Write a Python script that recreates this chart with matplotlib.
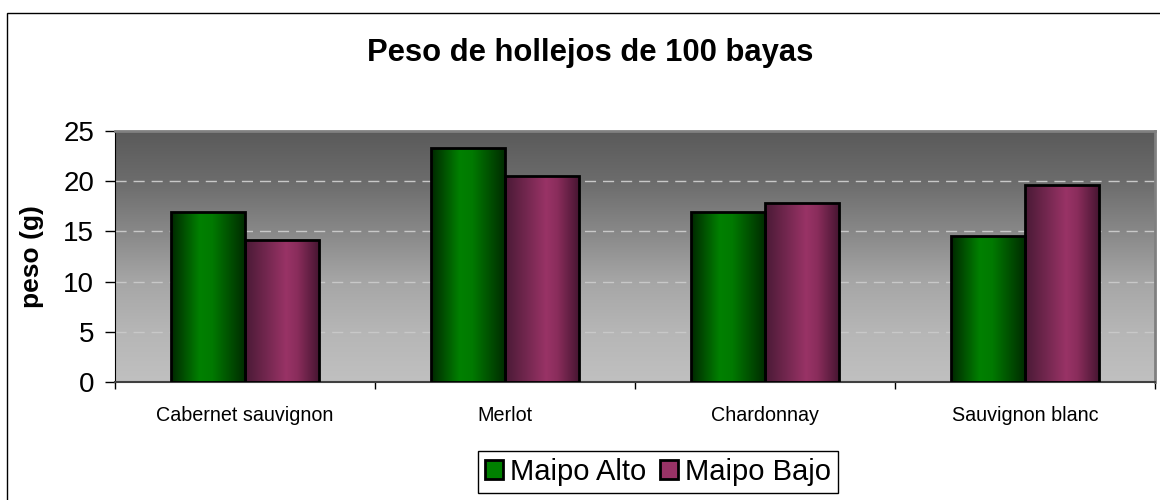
import numpy as np
import matplotlib
matplotlib.use('Agg')
import matplotlib.pyplot as plt
from matplotlib.colors import LinearSegmentedColormap
from matplotlib.patches import Patch, Rectangle

plt.rcParams['font.family'] = ['Liberation Sans', 'DejaVu Sans']

# data
variedades = ["Cabernet sauvignon", "Merlot", "Chardonnay", "Sauvignon blanc"]
maipo_alto = [16.9, 23.3, 16.9, 14.5]
maipo_bajo = [14.1, 20.5, 17.8, 19.6]
series_names = ["Maipo Alto", "Maipo Bajo"]
y_ticks = [0, 5, 10, 15, 20, 25]

# excel-like horizontal gradients for the bars
green_cmap = LinearSegmentedColormap.from_list('g', [(0, '#002800'), (0.38, '#008000'), (0.55, '#007a00'), (1, '#002a00')])
purple_cmap = LinearSegmentedColormap.from_list('p', [(0, '#4a1a36'), (0.55, '#993366'), (0.7, '#8a2d5c'), (1, '#451530')])
colors = {'Maipo Alto': '#008000', 'Maipo Bajo': '#993366'}

fig = plt.figure(figsize=(11.6, 5), dpi=100)
ax = fig.add_axes([115/1160, 1 - 382/500, 1040/1160, 251/500])

x = np.arange(len(variedades))
bar_width = 0.285

# plot area background gradient, dark at top
stops = [0, 0.2, 0.4, 0.6, 0.8, 1.0]
greys = [0xc0, 0xb6, 0xa6, 0x88, 0x6c, 0x5a]
t = np.linspace(0, 1, 256)
bg = np.interp(t, stops, greys) / 255.0
bg_img = np.dstack([bg, bg, bg]).reshape(256, 1, 3)
ax.imshow(bg_img, extent=[-0.5, 3.5, 0, 25], origin='lower', aspect='auto', zorder=0)

# dashed grid
for yv in y_ticks[1:-1]:
	ax.axhline(yv, color='#c8c8c8', lw=1, ls=(0, (8, 5)), zorder=1)

grad = np.linspace(0, 1, 200)[None, :]
for vals, offset, cmap, name in [(maipo_alto, -bar_width / 2, green_cmap, series_names[0]),
								 (maipo_bajo, bar_width / 2, purple_cmap, series_names[1])]:
	bars = ax.bar(x + offset, vals, bar_width, facecolor='none', edgecolor='black', lw=2, zorder=4)
	for b in bars:
		im = ax.imshow(grad, cmap=cmap, extent=[b.get_x(), b.get_x() + b.get_width(), 0, b.get_height()],
					   aspect='auto', zorder=3)
		im.set_clip_path(b)

ax.set_xlim(-0.5, 3.5)
ax.set_ylim(0, 25)

ax.set_yticks(y_ticks)
ax.set_yticklabels([str(v) for v in y_ticks], fontsize=20)
ax.tick_params(axis='y', direction='out', length=7, width=1, pad=8)

ax.set_xticks(x)
ax.set_xticklabels(variedades, fontsize=14.2)
ax.tick_params(axis='x', which='major', length=0, pad=17)
ax.set_xticks(np.arange(-0.5, 4.0, 1.0), minor=True)
ax.tick_params(axis='x', which='minor', direction='out', length=5, width=1)

for side in ['top', 'right']:
	ax.spines[side].set_color('#808080')
	ax.spines[side].set_linewidth(2)
ax.spines['left'].set_color('black')
ax.spines['bottom'].set_color('#404040')
ax.spines['bottom'].set_linewidth(1.5)

ax.set_ylabel('peso (g)', fontsize=19, fontweight='bold', va='center')
ax.yaxis.set_label_coords(-0.08, 0.5)

fig.text(590/1160, 1 - 53/500, 'Peso de hollejos de 100 bayas', ha='center', va='center',
		 fontsize=22.3, fontweight='bold')

handles = [Patch(facecolor=colors[n], edgecolor='black', lw=2, label=n) for n in series_names]
leg = fig.legend(handles=handles, loc='center', bbox_to_anchor=(658/1160, 28/500), ncol=2, fontsize=21,
				 handlelength=0.62, handleheight=0.65, handletextpad=0.25, columnspacing=0.45,
				 borderpad=0.25, borderaxespad=0, fancybox=False, framealpha=1, edgecolor='black')
leg.get_frame().set_linewidth(1)

# outer chart border
fig.add_artist(Rectangle((7/1160, -0.1), 1.2, 1 - 13/500 + 0.1, fill=False, edgecolor='black', lw=1,
						 transform=fig.transFigure))

fig.savefig('out.png', dpi=100)
